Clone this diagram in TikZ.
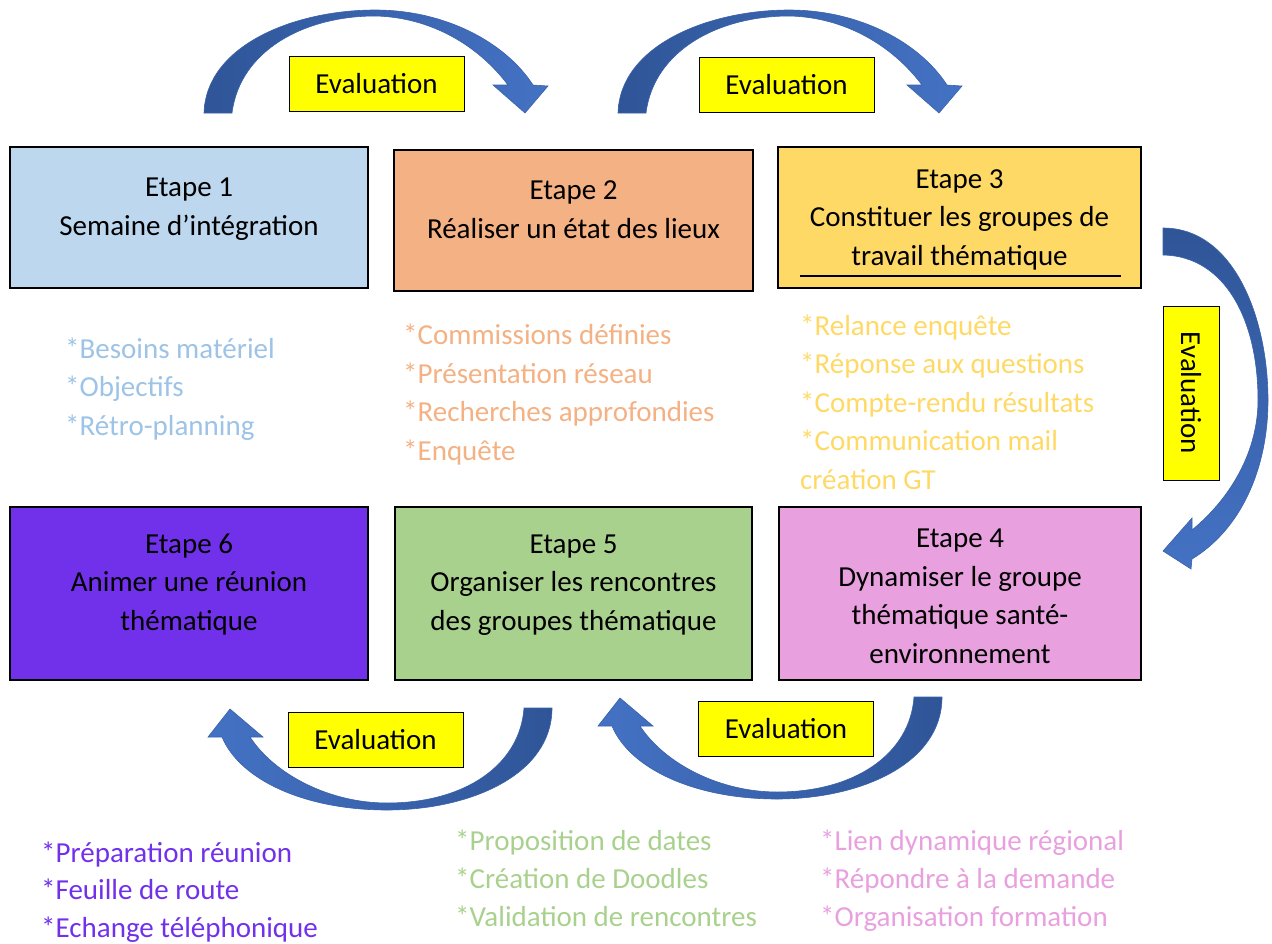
\documentclass[tikz,border=0pt]{standalone}
\usepackage{fontspec}
\setmainfont{Carlito}
\definecolor{cone}{HTML}{BDD7EE}
\definecolor{ctwo}{HTML}{F4B183}
\definecolor{cthree}{HTML}{FFD966}
\definecolor{csix}{HTML}{7131EB}
\definecolor{cfive}{HTML}{A9D18E}
\definecolor{cfour}{HTML}{E8A0DF}
\definecolor{lone}{HTML}{9DC3E6}
\definecolor{evalyellow}{HTML}{FFFF00}
\definecolor{arrdark}{HTML}{2F5597}
\definecolor{arrlight}{HTML}{4472C4}
\definecolor{arredge}{HTML}{3A62AA}
\begin{document}
\begin{tikzpicture}[x=1pt,y=-1pt,
  stepbox/.style={draw=black, line width=2pt, inner sep=0pt},
  evalbox/.style={draw=black, line width=1pt, fill=evalyellow, minimum width=175pt, minimum height=55pt, inner sep=0pt, font=\fontsize{29}{38}\selectfont},
  boxtext/.style={anchor=base, align=center, inner sep=0pt, font=\fontsize{29}{38.5}\selectfont},
  listtext/.style={anchor=base west, align=left, inner sep=0pt, font=\fontsize{29}{38.5}\selectfont},
  blockarrow/.style={draw=arredge, line width=0.6pt}
]
\useasboundingbox (0,0) rectangle (1272,943);

% boxes
\node[stepbox, fill=cone,   minimum width=358pt, minimum height=141pt] (b1) at (189,217.5) {};
\node[stepbox, fill=ctwo,   minimum width=359pt, minimum height=141pt] (b2) at (573.5,220.5) {};
\node[stepbox, fill=cthree, minimum width=363pt, minimum height=141pt] (b3) at (959.5,217.5) {};
\node[stepbox, fill=csix,   minimum width=358pt, minimum height=173pt] (b6) at (189,593.5) {};
\node[stepbox, fill=cfive,  minimum width=357pt, minimum height=173pt] (b5) at (573.5,593.5) {};
\node[stepbox, fill=cfour,  minimum width=362pt, minimum height=173pt] (b4) at (960,593.5) {};

% (anchor = baseline of the last line)
\node[boxtext] (t1) at (189,235) {Etape 1\\Semaine d’intégration};
\node[boxtext] (t2) at (573.5,238) {Etape 2\\Réaliser un état des lieux};
\node[boxtext] (t3) at (959.5,265) {Etape 3\\Constituer les groupes de\\travail thématique};
\node[boxtext] (t6) at (189,630) {Etape 6\\Animer une réunion\\thématique};
\node[boxtext] (t5) at (573.5,630) {Etape 5\\Organiser les rencontres\\des groupes thématique};
\node[boxtext] (t4) at (960,663) {Etape 4\\Dynamiser le groupe\\thématique santé-\\environnement};
\draw[line width=1.2pt, black] (800,276) -- (1121,276);

% lists
\node[listtext, text=lone] (l1) at (65,435) {*Besoins matériel\\*Objectifs\\*Rétro-planning};
\node[listtext, text=ctwo] (l2) at (403,460) {*Commissions définies\\*Présentation réseau\\*Recherches approfondies\\*Enquête};
\node[listtext, text=cthree] (l3) at (800,489) {*Relance enquête\\*Réponse aux questions\\*Compte-rendu résultats\\*Communication mail\\création GT};
\node[listtext, text=csix, font=\fontsize{29}{37.5}\selectfont] (l6) at (41,937) {*Préparation réunion\\*Feuille de route\\*Echange téléphonique};
\node[listtext, text=cfive, font=\fontsize{29}{38}\selectfont] (l5) at (455,926) {*Proposition de dates\\*Création de Doodles\\*Validation de rencontres};
\node[listtext, text=cfour, font=\fontsize{29}{38}\selectfont] (l4) at (820,926) {*Lien dynamique régional\\*Répondre à la demande\\*Organisation formation};

% curved block arrows
\foreach \dx in {0,414}{
\shadedraw[blockarrow, left color=arrdark, right color=arrlight, shift={(\dx,0)}]
  (204,113) .. controls (206,45) and (295,10) .. (375,10)
  .. controls (445,10) and (505,42) .. (533,85)
  -- (548,86) -- (525,113) -- (493,85) -- (508,85)
  .. controls (478,45) and (430,17) .. (375,16)
  .. controls (305,16) and (240,50) .. (232,113) -- cycle;
}
\shadedraw[blockarrow, top color=arrdark, bottom color=arrlight]
  (1163,228) .. controls (1235,228) and (1268,320) .. (1268,400)
  .. controls (1268,470) and (1240,530) .. (1192,559)
  -- (1191,569) -- (1163,551) -- (1192,518) -- (1192,530)
  .. controls (1232,497) and (1258,450) .. (1258,400)
  .. controls (1258,320) and (1225,256) .. (1163,255) -- cycle;
\foreach \dx/\dy in {0/0,390/-11}{
\shadedraw[blockarrow, right color=arrdark, left color=arrlight, shift={(\dx,\dy)}]
  (552,708) .. controls (552,775) and (470,810) .. (387,810)
  .. controls (305,810) and (240,780) .. (222,737)
  -- (208,737) -- (230,709) -- (263,737) -- (250,737)
  .. controls (275,775) and (330,803) .. (387,803)
  .. controls (465,803) and (520,765) .. (524,708) -- cycle;
}

% evaluation labels
\node[evalbox] (e1) at (376.5,84) {Evaluation};
\node[evalbox] (e2) at (786.5,84.5) {Evaluation};
\node[evalbox, rotate=-90, minimum width=174pt, minimum height=56pt] (e3) at (1191,393) {Evaluation};
\node[evalbox] (e4) at (375.5,739.5) {Evaluation};
\node[evalbox] (e5) at (786,728.5) {Evaluation};
\end{tikzpicture}
\end{document}
